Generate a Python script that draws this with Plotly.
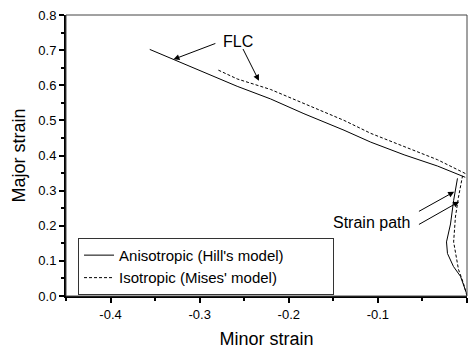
import plotly.graph_objects as go

# ---- data ----
flc_hill_x = [-0.356, -0.2579, -0.2204, -0.183, -0.138, -0.108, -0.0706, -0.0331, -0.002]
flc_hill_y = [0.702, 0.597, 0.561, 0.519, 0.472, 0.438, 0.402, 0.370, 0.338]

flc_mises_x = [-0.279, -0.2579, -0.2204, -0.183, -0.138, -0.108, -0.0706, -0.0331, -0.0013]
flc_mises_y = [0.643, 0.618, 0.588, 0.547, 0.500, 0.463, 0.426, 0.388, 0.348]

path_hill_x = [0.0, -0.0006, -0.0073, -0.0152, -0.0219, -0.023, -0.0185, -0.015, -0.0107]
path_hill_y = [0.0, 0.008, 0.056, 0.084, 0.121, 0.154, 0.205, 0.272, 0.335]

path_mises_x = [0.0, -0.004, -0.0096, -0.015, -0.013, -0.0096, -0.005]
path_mises_y = [0.0, 0.036, 0.076, 0.154, 0.225, 0.281, 0.342]

x_tickvals = [-0.4, -0.3, -0.2, -0.1, 0.0]
x_ticktext = ["-0.4", "-0.3", "-0.2", "-0.1", "0.0"]
y_tickvals = [0.0, 0.1, 0.2, 0.3, 0.4, 0.5, 0.6, 0.7, 0.8]
y_ticktext = ["0.0", "0.1", "0.2", "0.3", "0.4", "0.5", "0.6", "0.7", "0.8"]

FONT = "Arial, Liberation Sans, sans-serif"
DASH = "3px,2px"

fig = go.Figure()
fig.add_trace(go.Scatter(x=flc_hill_x, y=flc_hill_y, mode="lines",
                         line=dict(color="black", width=1),
                         name="Anisotropic (Hill's model)"))
fig.add_trace(go.Scatter(x=flc_mises_x, y=flc_mises_y, mode="lines",
                         line=dict(color="black", width=1, dash=DASH),
                         name="Isotropic (Mises' model)"))
fig.add_trace(go.Scatter(x=path_hill_x, y=path_hill_y, mode="lines",
                         line=dict(color="black", width=1), showlegend=False))
fig.add_trace(go.Scatter(x=path_mises_x, y=path_mises_y, mode="lines",
                         line=dict(color="black", width=1, dash=DASH), showlegend=False))

def arrow(x, y, ax, ay):
    fig.add_annotation(x=x, y=y, ax=ax, ay=ay, xref="x", yref="y",
                       axref="x", ayref="y", text="", showarrow=True,
                       arrowhead=2, arrowsize=1.2, arrowwidth=1, arrowcolor="black")

arrow(-0.3294, 0.6737, -0.2807, 0.7206)
arrow(-0.2335, 0.6128, -0.2522, 0.7074)
arrow(-0.0144, 0.2967, -0.0556, 0.2386)
arrow(-0.0088, 0.2686, -0.0556, 0.2013)

fig.add_annotation(x=-0.2567, y=0.724, xref="x", yref="y", text="FLC",
                   showarrow=False, font=dict(family=FONT, size=16, color="black"))
fig.add_annotation(x=-0.1075, y=0.209, xref="x", yref="y", text="Strain path",
                   showarrow=False, font=dict(family=FONT, size=16, color="black"))

# thin frame on top/right
fig.add_shape(type="rect", xref="paper", yref="paper", x0=0, x1=1, y0=0, y1=1,
              line=dict(color="#444", width=1), layer="above")

fig.update_layout(
    width=474, height=353,
    margin=dict(l=66, r=7, t=15, b=53),
    paper_bgcolor="white", plot_bgcolor="white",
    font=dict(family=FONT, color="black"),
    showlegend=True,
    legend=dict(x=0.03, y=0.004, xanchor="left", yanchor="bottom",
                orientation="h", entrywidth=209, entrywidthmode="pixels",
                bordercolor="#333", borderwidth=1, bgcolor="white",
                font=dict(family=FONT, size=15, color="black"),
                tracegroupgap=0, itemwidth=30),
)
fig.update_xaxes(range=[-0.45, 0.0], tickvals=x_tickvals, ticktext=x_ticktext,
                 showgrid=False, zeroline=False, showline=True, linewidth=2,
                 linecolor="black", ticks="outside", ticklen=5, tickwidth=1.5,
                 tickcolor="black", tickfont=dict(family=FONT, size=13, color="black"),
                 minor=dict(dtick=0.05, tick0=0, ticks="outside", ticklen=3,
                            tickwidth=1.5, tickcolor="black"),
                 title=dict(text="Minor strain", standoff=12,
                            font=dict(family=FONT, size=18, color="black")))
fig.update_yaxes(range=[0.0, 0.8], tickvals=y_tickvals, ticktext=y_ticktext,
                 showgrid=False, zeroline=False, showline=True, linewidth=2,
                 linecolor="black", ticks="outside", ticklen=5, tickwidth=1.5,
                 tickcolor="black", tickfont=dict(family=FONT, size=13, color="black"),
                 minor=dict(dtick=0.05, tick0=0, ticks="outside", ticklen=3,
                            tickwidth=1.5, tickcolor="black"),
                 title=dict(text="Major strain", standoff=8,
                            font=dict(family=FONT, size=18, color="black")))

fig.write_html("out.html")
